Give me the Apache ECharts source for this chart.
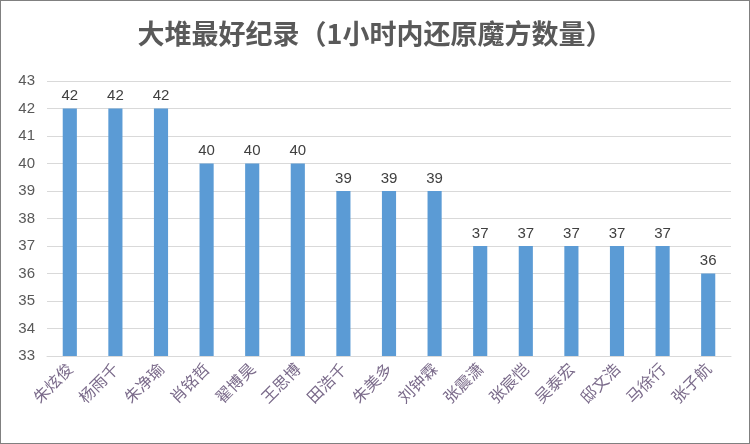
<!DOCTYPE html>
<html>
<head>
<meta charset="utf-8">
<script src="https://cdn.jsdelivr.net/npm/echarts@6/dist/echarts.min.js"></script>
<style>
html, body { margin: 0; padding: 0; background: #fff; }
#main { width: 748px; height: 442px; border: 1px solid #808080; }
</style>
</head>
<body>
<div id="main"></div>
<script>
var names = ['朱炫俊', '杨雨千', '朱净瑜', '肖铭哲', '翟博昊', '王思博', '田浩千', '朱美多', '刘钟霖', '张震潇', '张宸恺', '吴泰宏', '邸文浩', '马徐行', '张子航'];
var counts = [42, 42, 42, 40, 40, 40, 39, 39, 39, 37, 37, 37, 37, 37, 36];

var chart = echarts.init(document.getElementById('main'));
chart.setOption({
    title: {
        text: '大堆最好纪录（1小时内还原魔方数量）',
        left: 'center',
        top: 14,
        textStyle: {
            fontFamily: 'Noto Sans CJK SC',
            fontSize: 27,
            fontWeight: 'bold',
            color: '#595959'
        }
    },
    grid: { left: 46, right: 18, top: 80, bottom: 87 },
    xAxis: {
        type: 'category',
        data: names,
        axisTick: { show: false },
        axisLine: { lineStyle: { color: '#d9d9d9' } },
        axisLabel: {
            rotate: 45,
            interval: 0,
            fontSize: 16,
            fontFamily: 'Noto Sans CJK SC',
            color: '#7a6a8a',
            margin: 10
        }
    },
    yAxis: {
        type: 'value',
        min: 33,
        max: 43,
        interval: 1,
        axisLine: { show: false },
        axisTick: { show: false },
        axisLabel: { fontSize: 15, color: '#595959', margin: 12 },
        splitLine: { lineStyle: { color: '#d9d9d9' } }
    },
    series: [{
        type: 'bar',
        data: counts,
        barWidth: '31%',
        itemStyle: { color: '#5b9bd5' },
        label: { show: true, position: 'top', fontSize: 15, color: '#404040' }
    }]
});
</script>
</body>
</html>
